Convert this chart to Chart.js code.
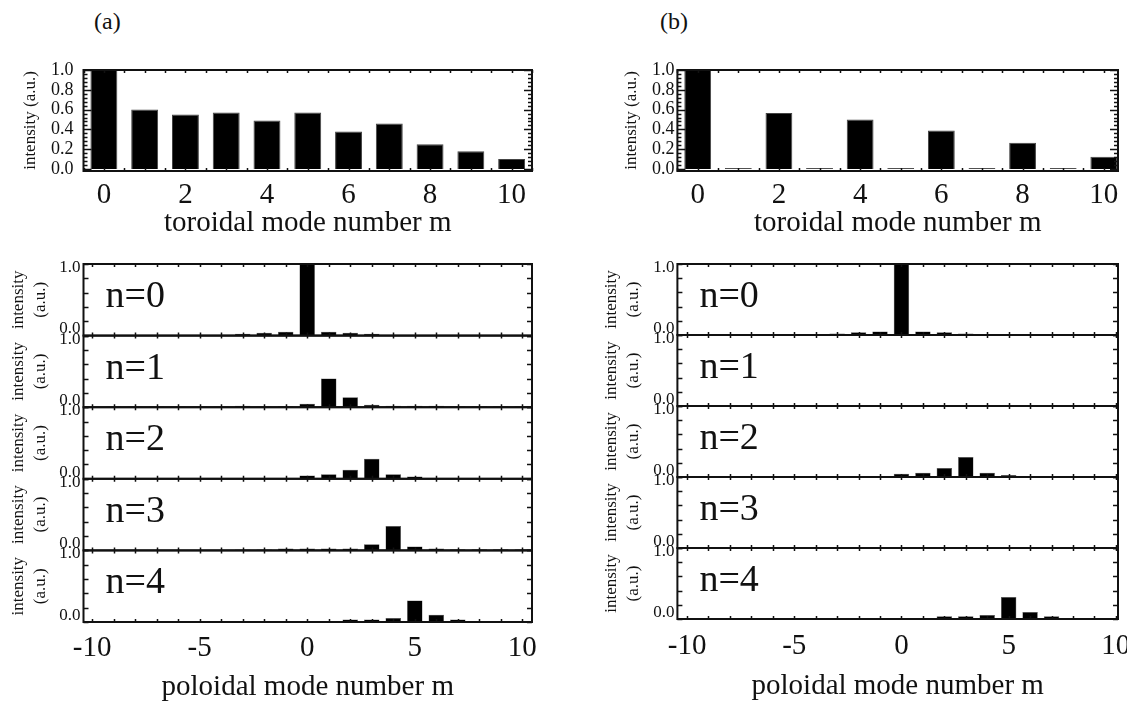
<!DOCTYPE html>
<html>
<head>
<meta charset="utf-8">
<script src="https://cdn.jsdelivr.net/npm/chart.js@4/dist/chart.umd.min.js"></script>
<style>
  body { margin: 0; background: #fff; width: 1127px; height: 702px; position: relative; overflow: hidden; font-family: "Liberation Serif", serif; }
  canvas { position: absolute; }
  .tag { position: absolute; font-size: 24px; color: #111; }
</style>
</head>
<body>
<div class="tag" style="left:94px; top:8px">(a)</div>
<div class="tag" style="left:660px; top:8px">(b)</div>
<canvas id="topA" width="560" height="250" style="left:0; top:0"></canvas>
<canvas id="topB" width="567" height="250" style="left:560px; top:0"></canvas>
<canvas id="botA" width="560" height="452" style="left:0; top:250px"></canvas>
<canvas id="botB" width="567" height="452" style="left:560px; top:250px"></canvas>
<script>
// ---- data ----
const toroidalM = [0, 1, 2, 3, 4, 5, 6, 7, 8, 9, 10];
const toroidalTicks = [0, 2, 4, 6, 8, 10];
const toroidalYTicks = [0.0, 0.2, 0.4, 0.6, 0.8, 1.0];
const toroidalA = [1.0, 0.60, 0.55, 0.57, 0.49, 0.57, 0.38, 0.46, 0.25, 0.18, 0.10];
const toroidalB = [1.0, 0.01, 0.565, 0.01, 0.50, 0.01, 0.39, 0.01, 0.265, 0.01, 0.125];

const poloidalM = [-10, -9, -8, -7, -6, -5, -4, -3, -2, -1, 0, 1, 2, 3, 4, 5, 6, 7, 8, 9, 10];
const poloidalTicks = [-10, -5, 0, 5, 10];
const panelYTicks = [0.0, 1.0];
const panelNames = ['n=0', 'n=1', 'n=2', 'n=3', 'n=4'];

//                 -10    -9     -8     -7     -6     -5     -4     -3     -2     -1     0      1      2      3      4      5      6      7      8      9      10
const polA_n0 = [0.008, 0.008, 0.008, 0.008, 0.008, 0.008, 0.008, 0.025, 0.04, 0.055, 1.0, 0.055, 0.04, 0.025, 0.008, 0.008, 0.008, 0.008, 0.008, 0.008, 0.008];
const polA_n1 = [0.01, 0.01, 0.01, 0.01, 0.01, 0.01, 0.01, 0.02, 0.01, 0.012, 0.047, 0.40, 0.14, 0.035, 0.02, 0.02, 0.02, 0.012, 0.012, 0.012, 0.012];
const polA_n2 = [0, 0, 0, 0, 0, 0, 0, 0, 0.004, 0.008, 0.047, 0.065, 0.127, 0.28, 0.065, 0.033, 0.012, 0.012, 0.01, 0, 0];
const polA_n3 = [0.004, 0.004, 0.004, 0.004, 0.004, 0.004, 0.004, 0.012, 0.012, 0.028, 0.028, 0.028, 0.028, 0.085, 0.34, 0.056, 0.028, 0.015, 0.015, 0.015, 0.015];
const polA_n4 = [0.006, 0.006, 0.006, 0.006, 0.006, 0.006, 0.006, 0.012, 0.012, 0.012, 0.012, 0.012, 0.035, 0.035, 0.055, 0.30, 0.10, 0.035, 0.015, 0.015, 0.015];

const polB_n0 = [0.004, 0.004, 0.004, 0.004, 0.004, 0.004, 0.004, 0.02, 0.037, 0.05, 1.0, 0.05, 0.037, 0.02, 0.004, 0.004, 0.004, 0.004, 0.004, 0.004, 0.004];
const polB_n1 = [0.003, 0.003, 0.003, 0.003, 0.003, 0.003, 0.003, 0.003, 0.003, 0.003, 0.003, 0.003, 0.003, 0.003, 0.003, 0.003, 0.003, 0.003, 0.003, 0.003, 0.003];
const polB_n2 = [0.003, 0.003, 0.003, 0.003, 0.003, 0.003, 0.003, 0.003, 0.003, 0.008, 0.047, 0.06, 0.127, 0.28, 0.06, 0.028, 0.01, 0.01, 0.01, 0.003, 0.003];
const polB_n3 = [0.003, 0.003, 0.003, 0.003, 0.003, 0.003, 0.003, 0.003, 0.003, 0.003, 0.003, 0.003, 0.003, 0.003, 0.003, 0.003, 0.003, 0.003, 0.003, 0.003, 0.003];
const polB_n4 = [0.006, 0.006, 0.006, 0.006, 0.006, 0.006, 0.006, 0.012, 0.012, 0.012, 0.012, 0.012, 0.037, 0.037, 0.056, 0.31, 0.10, 0.037, 0.012, 0.012, 0.012];

Chart.defaults.font.family = '"Liberation Serif", "Times New Roman", serif';
Chart.defaults.color = '#111';

// draws the box round every panel with inward tick marks, plus the n= labels
const framePlugin = {
  id: 'frame',
  afterDatasetsDraw(chart, args, o) {
    const ctx = chart.ctx;
    const a = chart.chartArea;
    const xs = chart.scales.x;
    const yScales = Object.values(chart.scales).filter(s => s.axis === 'y');
    ctx.save();
    ctx.strokeStyle = '#111';
    ctx.fillStyle = '#111';
    yScales.forEach(ys => {
      ctx.lineWidth = 1.5;
      ctx.beginPath();
      for (let k = Math.ceil(xs.min / o.xStep); k * o.xStep <= xs.max + 1e-9; k++) {
        const px = Math.round(xs.getPixelForValue(k * o.xStep)) + 0.5;
        ctx.moveTo(px, ys.top); ctx.lineTo(px, ys.top + o.xLen);
        ctx.moveTo(px, ys.bottom); ctx.lineTo(px, ys.bottom - o.xLen);
      }
      const nY = Math.round(ys.max / o.yStep);
      for (let k = 0; k <= nY; k++) {
        const py = Math.round(ys.getPixelForValue(k * o.yStep)) + 0.5;
        const len = k % o.yMajorEvery === 0 ? o.yMajorLen : o.yLen;
        ctx.moveTo(a.left, py); ctx.lineTo(a.left + len, py);
        ctx.moveTo(a.right, py); ctx.lineTo(a.right - len, py);
      }
      ctx.stroke();
      ctx.lineWidth = 2;
      ctx.strokeRect(a.left, ys.top, a.right - a.left, ys.bottom - ys.top);
      if (o.labels) {
        const i = Number(ys.id.slice(1));
        ctx.font = '38px "Liberation Serif", serif';
        ctx.textBaseline = 'alphabetic';
        ctx.fillText(o.labels[i], a.left + 22, ys.top + (ys.bottom - ys.top) * 0.6);
      }
    });
    ctx.restore();
  }
};

function topChart(id, values, g) {
  return new Chart(document.getElementById(id), {
    type: 'bar',
    data: {
      labels: toroidalM,
      datasets: [{
        data: values,
        backgroundColor: '#000',
        borderColor: '#444',
        borderWidth: 1,
        barPercentage: 0.66,
        categoryPercentage: 1
      }]
    },
    options: {
      responsive: false,
      animation: false,
      layout: { padding: { top: 70, left: 0, right: g.right, bottom: 0 } },
      plugins: {
        legend: { display: false },
        tooltip: { enabled: false },
        frame: { xStep: 0.5, xLen: 3, yStep: 0.04, yLen: 4, yMajorEvery: 5, yMajorLen: 8 }
      },
      scales: {
        x: {
          type: 'linear', min: -0.5, max: g.xMax, offset: false,
          grid: { display: false, drawTicks: false }, border: { display: false },
          afterBuildTicks: s => { s.ticks = toroidalTicks.map(v => ({ value: v })); },
          afterFit: s => { s.height = 79; s.paddingLeft = 0; s.paddingRight = 0; },
          ticks: { autoSkip: false, maxRotation: 0, padding: 10, font: { size: 29, lineHeight: 1 }, callback: v => String(v) },
          title: { display: true, text: 'toroidal mode number m', font: { size: 29, lineHeight: 1 }, padding: { top: 0, bottom: 12 } }
        },
        y: {
          min: -0.02, max: 1.0,
          grid: { display: false, drawTicks: false }, border: { display: false },
          afterBuildTicks: s => { s.ticks = toroidalYTicks.map(v => ({ value: v })); },
          afterFit: s => { s.width = g.axisW; },
          ticks: { autoSkip: false, padding: g.tickPad, font: { size: 18 }, callback: v => v.toFixed(1) },
          title: { display: true, text: 'intensity (a.u.)', font: { size: 17, lineHeight: 1.2 }, padding: { top: g.titlePad, bottom: 0 } }
        }
      }
    },
    plugins: [framePlugin]
  });
}

function panelChart(id, series, g) {
  const scales = {
    x: {
      type: 'linear', min: g.xMin, max: g.xMax, offset: false,
      grid: { display: false, drawTicks: false }, border: { display: false },
      afterBuildTicks: s => { s.ticks = poloidalTicks.map(v => ({ value: v })); },
      afterFit: s => { s.height = g.xAxisH; s.paddingLeft = 0; s.paddingRight = 0; },
      ticks: { autoSkip: false, maxRotation: 0, padding: g.xTickPad, font: { size: 29, lineHeight: 1 }, callback: v => String(v) },
      title: { display: true, text: 'poloidal mode number m', font: { size: 29, lineHeight: 1 }, padding: { top: 0, bottom: g.xTitlePad } }
    }
  };
  // stacked axes are laid out bottom-up, so the last panel is declared first
  for (let i = panelNames.length - 1; i >= 0; i--) {
    scales['y' + i] = {
      type: 'linear', position: 'left', stack: 'panels', stackWeight: 1,
      min: 0, max: 1,
      grid: { display: false, drawTicks: false }, border: { display: false },
      afterBuildTicks: s => { s.ticks = panelYTicks.map(v => ({ value: v })); },
      afterFit: s => { s.width = g.axisW; },
      ticks: {
        autoSkip: false, padding: 3, labelOffset: -1.5,
        font: { size: 17, lineHeight: 0.6 },
        // an empty line nudges 0.0 up and 1.0 down, as in the figure
        callback: v => v === 0 ? ['0.0', ''] : ['', v.toFixed(1)]
      },
      title: { display: true, text: ['intensity', '(a.u.)'], font: { size: 17, lineHeight: 1.3 }, padding: { top: g.titlePad, bottom: 0 } }
    };
  }
  return new Chart(document.getElementById(id), {
    type: 'bar',
    data: {
      labels: poloidalM,
      datasets: series.map((vals, i) => ({
        data: vals,
        yAxisID: 'y' + i,
        grouped: false,
        backgroundColor: '#000',
        borderColor: '#555',
        borderWidth: 0.5,
        barPercentage: 0.72,
        categoryPercentage: 1
      }))
    },
    options: {
      responsive: false,
      animation: false,
      layout: { padding: { top: 14, left: 0, right: g.right, bottom: 0 } },
      plugins: {
        legend: { display: false },
        tooltip: { enabled: false },
        frame: { xStep: 1, xLen: 3, yStep: 0.2, yLen: 5, yMajorEvery: 1, yMajorLen: 5, labels: panelNames }
      },
      scales: scales
    },
    plugins: [framePlugin]
  });
}

topChart('topA', toroidalA, { right: 28, xMax: 10.5, axisW: 83.5, tickPad: 10, titlePad: 20 });
topChart('topB', toroidalB, { right: 9, xMax: 10.35, axisW: 117.4, tickPad: 3, titlePad: 61 });

panelChart('botA', [polA_n0, polA_n1, polA_n2, polA_n3, polA_n4],
  { xMin: -10.4, xMax: 10.45, right: 28, axisW: 83.5, titlePad: 7, xAxisH: 80, xTickPad: 12, xTitlePad: 0 });
panelChart('botB', [polB_n0, polB_n1, polB_n2, polB_n3, polB_n4],
  { xMin: -10.45, xMax: 10.1, right: 9, axisW: 117.4, titlePad: 40, xAxisH: 83, xTickPad: 13, xTitlePad: 1 });
</script>
</body>
</html>
